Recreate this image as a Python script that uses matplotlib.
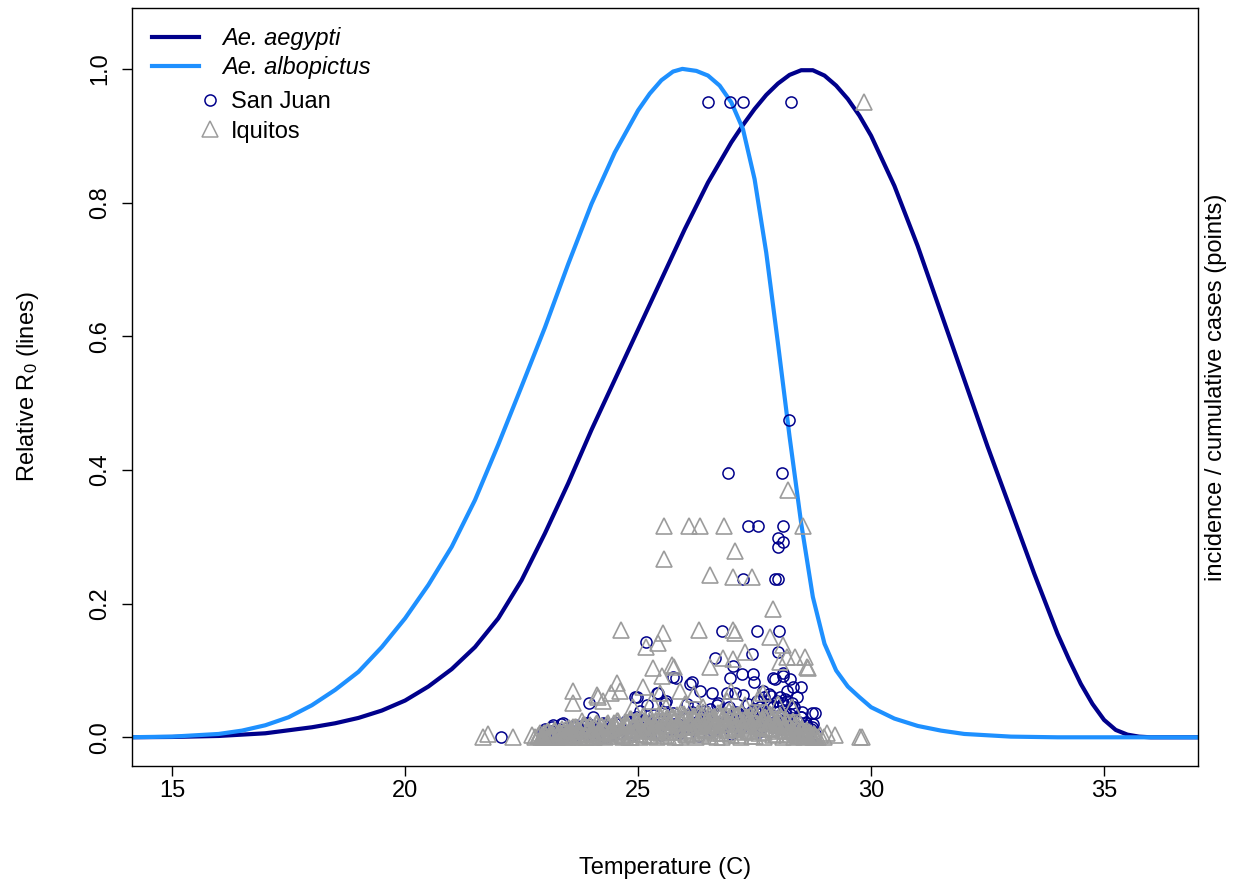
import matplotlib
matplotlib.use("Agg")
import matplotlib.pyplot as plt
from matplotlib.lines import Line2D

plt.rcParams['font.family'] = ['Liberation Sans', 'DejaVu Sans']
plt.rcParams['mathtext.fontset'] = 'custom'
plt.rcParams['mathtext.rm'] = 'Liberation Sans'
plt.rcParams['mathtext.it'] = 'Liberation Sans:italic'

# relative R0 curves
temp_aeg = [14.0, 15.0, 16.0, 17.0, 18.0, 18.5, 19.0, 19.5, 20.0, 20.5, 21.0, 21.5,
            22.0, 22.5, 23.0, 23.5, 24.0, 24.5, 25.0, 25.5, 26.0, 26.5, 27.0, 27.25,
            27.5, 27.75, 28.0, 28.25, 28.5, 28.75, 29.0, 29.25, 29.5, 29.75, 30.0, 30.5,
            31.0, 31.5, 32.0, 32.5, 33.0, 33.5, 34.0, 34.25, 34.5, 34.75, 35.0, 35.25,
            35.5, 35.75, 36.0, 37.1]
r0_aeg = [0.0, 0.0005, 0.002, 0.006, 0.015, 0.021, 0.029, 0.04, 0.055, 0.076, 0.102, 0.135,
          0.178, 0.235, 0.305, 0.38, 0.46, 0.535, 0.61, 0.685, 0.76, 0.83, 0.89, 0.916,
          0.94, 0.961, 0.978, 0.991, 0.998, 0.998, 0.99, 0.975, 0.955, 0.93, 0.9, 0.825,
          0.735, 0.635, 0.535, 0.435, 0.34, 0.245, 0.155, 0.116, 0.08, 0.05, 0.026, 0.011,
          0.004, 0.001, 0.0, 0.0]

temp_alb = [14.0, 15.0, 16.0, 16.5, 17.0, 17.5, 18.0, 18.5, 19.0, 19.5, 20.0, 20.5,
            21.0, 21.5, 22.0, 22.5, 23.0, 23.5, 24.0, 24.5, 25.0, 25.25, 25.5, 25.75,
            25.95, 26.25, 26.5, 26.75, 27.0, 27.25, 27.5, 27.75, 28.0, 28.25, 28.5, 28.75,
            29.0, 29.25, 29.5, 29.75, 30.0, 30.5, 31.0, 31.5, 32.0, 33.0, 34.0, 37.1]
r0_alb = [0.0, 0.001, 0.005, 0.01, 0.018, 0.03, 0.048, 0.071, 0.098, 0.135, 0.178, 0.228,
          0.285, 0.355, 0.438, 0.525, 0.613, 0.708, 0.798, 0.875, 0.938, 0.963, 0.983, 0.996,
          1.0, 0.997, 0.99, 0.975, 0.95, 0.91, 0.835, 0.725, 0.59, 0.45, 0.32, 0.21,
          0.14, 0.1, 0.076, 0.06, 0.045, 0.028, 0.017, 0.01, 0.005, 0.001, 0.0, 0.0]

# San Juan points (temperature, scaled incidence)
sj_temp = [26.5, 26.97, 27.25, 28.28, 28.24, 26.93, 28.09, 27.36, 27.58, 28.11,
           28.0, 28.11, 28.0, 27.25, 27.94, 28.0, 26.8, 27.55, 28.03, 25.17,
           26.65, 27.45, 28.0, 25.82, 26.16, 26.12, 26.33, 26.59, 27.04, 27.23,
           27.47, 27.49, 27.94, 28.11, 28.26, 28.5, 27.08, 27.25, 28.3, 28.52,
           28.8, 24.98, 23.95, 25.43, 25.19, 25.6, 24.03, 22.06, 26.7, 28.76,
           24.94, 25.4, 25.58, 25.75, 25.04, 26.97, 26.72, 26.44, 26.2, 26.05,
           27.9, 28.11, 28.2, 28.33, 28.4, 28.73, 28.73, 27.68, 27.8, 28.15,
           23.0, 23.18, 23.39, 23.65, 23.9, 24.25, 24.55, 26.9,
           22.95, 23.05, 23.15, 23.25, 23.35, 23.45, 23.55, 23.65, 23.75, 23.85,
           23.9, 24.05, 24.15, 24.25, 24.35, 24.45, 24.55, 24.65, 24.75, 24.85,
           24.95, 25.05, 25.15, 25.25, 25.35, 25.45, 25.55, 25.65, 25.75, 25.85,
           25.95, 26.05, 26.15, 26.25, 26.35, 26.45, 26.55, 26.65, 26.75, 26.85,
           26.95, 27.05, 27.15, 27.25, 27.35, 27.4, 27.45, 27.5, 27.55, 27.6,
           27.62, 27.65, 27.7, 27.72, 27.75, 27.8, 27.82, 27.85, 27.88, 27.9,
           27.95, 27.98, 28.0, 28.03, 28.05, 28.08, 28.1, 28.13, 28.15, 28.2,
           28.22, 28.25, 28.3, 28.35, 28.4, 28.45, 28.5, 28.55, 28.6, 28.65,
           28.7, 28.8]
sj_inc = [0.95, 0.95, 0.95, 0.95, 0.475, 0.395, 0.395, 0.316, 0.316, 0.316,
          0.298, 0.292, 0.285, 0.237, 0.237, 0.237, 0.159, 0.159, 0.159, 0.142,
          0.118, 0.124, 0.127, 0.089, 0.082, 0.079, 0.07, 0.066, 0.106, 0.094,
          0.094, 0.082, 0.087, 0.091, 0.087, 0.075, 0.066, 0.064, 0.051, 0.038,
          0.036, 0.06, 0.052, 0.067, 0.049, 0.055, 0.03, 0.0, 0.049, 0.02,
          0.06, 0.067, 0.052, 0.09, 0.04, 0.088, 0.052, 0.04, 0.045, 0.05,
          0.088, 0.096, 0.07, 0.075, 0.06, 0.036, 0.015, 0.07, 0.065, 0.058,
          0.013, 0.018, 0.022, 0.016, 0.022, 0.02, 0.021, 0.066,
          0.01, 0.005, 0.015, 0.008, 0.02, 0.01, 0.004, 0.018, 0.012, 0.006,
          0.021, 0.014, 0.007, 0.022, 0.011, 0.005, 0.02, 0.013, 0.025, 0.008,
          0.03, 0.016, 0.024, 0.01, 0.033, 0.018, 0.027, 0.012, 0.036, 0.02,
          0.03, 0.014, 0.038, 0.022, 0.03, 0.016, 0.042, 0.025, 0.033, 0.018,
          0.045, 0.027, 0.036, 0.02, 0.05, 0.03, 0.04, 0.022, 0.055, 0.035,
          0.045, 0.015, 0.06, 0.028, 0.04, 0.05, 0.018, 0.062, 0.033, 0.045,
          0.025, 0.055, 0.038, 0.012, 0.06, 0.03, 0.048, 0.02, 0.04, 0.055,
          0.028, 0.035, 0.015, 0.045, 0.025, 0.01, 0.03, 0.015, 0.022, 0.008,
          0.012, 0.005]

# San Juan weeks hidden in the low band
sj_band_temp = [23.0, 23.1, 23.2, 23.3, 23.4, 23.5, 23.6, 23.7, 23.8, 23.9,
                24.0, 24.1, 24.2, 24.3, 24.4, 24.5, 24.6, 24.7, 24.8, 24.9,
                25.0, 25.1, 25.2, 25.3, 25.4, 25.5, 25.6, 25.7, 25.8, 25.9,
                26.0, 26.1, 26.2, 26.3, 26.4, 26.5, 26.6, 26.7, 26.8, 26.9,
                27.0, 27.1, 27.2, 27.3, 27.4, 27.5, 27.6, 27.7, 27.8, 27.9,
                28.0, 28.1, 28.2, 28.3, 28.4, 28.5, 28.6, 28.7, 28.8]
sj_band_inc = [0.003, 0.009, 0.0, 0.012, 0.006, 0.015, 0.002, 0.01, 0.017, 0.005,
               0.013, 0.008, 0.019, 0.001, 0.014, 0.022, 0.007, 0.011, 0.024, 0.004,
               0.018, 0.026, 0.009, 0.015, 0.028, 0.003, 0.02, 0.031, 0.012, 0.006,
               0.027, 0.016, 0.033, 0.002, 0.023, 0.03, 0.01, 0.035, 0.018, 0.025,
               0.005, 0.038, 0.014, 0.029, 0.021, 0.042, 0.008, 0.033, 0.048, 0.015,
               0.038, 0.052, 0.024, 0.044, 0.011, 0.03, 0.018, 0.009, 0.004]

# Iquitos points (temperature, scaled incidence)
iq_temp = [29.85, 28.22, 25.56, 26.09, 26.33, 26.85, 28.54, 27.08, 25.56, 26.55,
           27.04, 27.45, 27.9, 24.64, 25.54, 26.31, 27.04, 27.08, 25.17, 25.43,
           27.83, 28.11, 27.3, 26.82, 27.04, 28.37, 28.58, 28.2, 28.65, 25.32,
           25.77, 25.52, 26.55, 23.6, 23.6, 24.55, 24.61, 24.42, 24.12, 24.25,
           25.1, 25.9, 25.47, 21.67, 21.78, 22.32, 22.79, 22.73, 23.8, 24.14,
           25.73, 27.68, 28.05, 28.63, 29.05, 29.23, 29.76, 29.8,
           25.6, 26.0, 26.4, 26.9, 27.3, 27.6, 27.0, 26.2, 25.3, 24.9, 28.0, 28.3,
           22.95, 23.05, 23.1, 23.2, 23.25, 23.3, 23.4, 23.45, 23.5, 23.55,
           23.6, 23.65, 23.7, 23.8, 23.85, 23.9, 24.0, 24.05, 24.1, 24.15,
           24.2, 24.3, 24.35, 24.4, 24.45, 24.5, 24.55, 24.6, 24.7, 24.75,
           24.8, 24.85, 24.9, 24.95, 25.0, 25.05, 25.1, 25.15, 25.2, 25.25,
           25.3, 25.35, 25.4, 25.45, 25.5, 25.55, 25.6, 25.65, 25.7, 25.75,
           25.8, 25.85, 25.9, 25.95, 26.0, 26.05, 26.1, 26.15, 26.2, 26.25,
           26.3, 26.35, 26.4, 26.45, 26.5, 26.55, 26.6, 26.65, 26.7, 26.75,
           26.8, 26.85, 26.9, 26.95, 27.0, 27.05, 27.1, 27.15, 27.2, 27.25,
           27.3, 27.35, 27.4, 27.45, 27.5, 27.55, 27.6, 27.65, 27.7, 27.75,
           27.8, 27.85, 27.9, 27.95, 28.0, 28.05, 28.1, 28.15, 28.2, 28.25,
           28.3, 28.35, 28.4, 28.45, 28.5, 28.55, 28.6, 28.7, 28.8, 28.9, 29.0]
iq_inc = [0.95, 0.37, 0.316, 0.316, 0.316, 0.316, 0.316, 0.278, 0.266, 0.243,
          0.24, 0.24, 0.192, 0.16, 0.156, 0.16, 0.16, 0.156, 0.135, 0.141,
          0.15, 0.138, 0.127, 0.118, 0.117, 0.12, 0.12, 0.12, 0.103, 0.103,
          0.105, 0.091, 0.105, 0.07, 0.051, 0.081, 0.07, 0.066, 0.063, 0.055,
          0.075, 0.07, 0.066, 0.0, 0.005, 0.0, 0.0, 0.003, 0.025, 0.06,
          0.108, 0.067, 0.112, 0.105, 0.007, 0.003, 0.0, 0.0,
          0.045, 0.05, 0.045, 0.055, 0.048, 0.06, 0.07, 0.065, 0.055, 0.045, 0.05, 0.045,
          0.002, 0.0, 0.006, 0.003, 0.0, 0.008, 0.002, 0.012, 0.0, 0.005,
          0.015, 0.002, 0.009, 0.0, 0.018, 0.006, 0.012, 0.0, 0.02, 0.004,
          0.01, 0.0, 0.022, 0.007, 0.015, 0.002, 0.025, 0.01, 0.004, 0.018,
          0.0, 0.028, 0.012, 0.005, 0.02, 0.0, 0.032, 0.009, 0.016, 0.003,
          0.025, 0.011, 0.0, 0.035, 0.006, 0.019, 0.028, 0.002, 0.013, 0.03,
          0.0, 0.022, 0.008, 0.035, 0.015, 0.003, 0.026, 0.01, 0.032, 0.0,
          0.018, 0.007, 0.038, 0.012, 0.024, 0.002, 0.03, 0.015, 0.006, 0.036,
          0.0, 0.021, 0.011, 0.04, 0.004, 0.027, 0.015, 0.033, 0.0, 0.019,
          0.008, 0.03, 0.013, 0.002, 0.036, 0.022, 0.006, 0.028, 0.0, 0.04,
          0.014, 0.031, 0.004, 0.02, 0.009, 0.034, 0.0, 0.016, 0.025, 0.005,
          0.012, 0.0, 0.02, 0.004, 0.01, 0.0, 0.006, 0.002, 0.0, 0.003, 0.0]

# Iquitos weeks making up the solid low band
iq_band_temp = [22.85, 22.9, 22.95, 23.0, 23.05, 23.1, 23.15, 23.2, 23.25, 23.3, 23.35,
                23.4, 23.45, 23.5, 23.55, 23.6, 23.65, 23.7, 23.75, 23.8, 23.85, 23.9,
                23.95, 24.0, 24.05, 24.1, 24.15, 24.2, 24.25, 24.3, 24.35, 24.4, 24.45,
                24.5, 24.55, 24.6, 24.65, 24.7, 24.75, 24.8, 24.85, 24.9, 24.95, 25.0,
                25.05, 25.1, 25.15, 25.2, 25.25, 25.3, 25.35, 25.4, 25.45, 25.5, 25.55,
                25.6, 25.65, 25.7, 25.75, 25.8, 25.85, 25.9, 25.95, 26.0, 26.05, 26.1,
                26.15, 26.2, 26.25, 26.3, 26.35, 26.4, 26.45, 26.5, 26.55, 26.6, 26.65,
                26.7, 26.75, 26.8, 26.85, 26.9, 26.95, 27.0, 27.05, 27.1, 27.15, 27.2,
                27.25, 27.3, 27.35, 27.4, 27.45, 27.5, 27.55, 27.6, 27.65, 27.7, 27.75,
                27.8, 27.85, 27.9, 27.95, 28.0, 28.05, 28.1, 28.15, 28.2, 28.25, 28.3,
                28.35, 28.4, 28.45, 28.5, 28.55, 28.6, 28.65, 28.7, 28.75, 28.8, 28.85]
iq_band_inc = [0.002, 0.006, 0.0, 0.004, 0.008, 0.001, 0.005, 0.009, 0.0, 0.007, 0.003,
               0.01, 0.002, 0.006, 0.012, 0.004, 0.015, 0.0, 0.009, 0.014, 0.003, 0.011,
               0.016, 0.006, 0.0, 0.013, 0.008, 0.017, 0.002, 0.01, 0.015, 0.005, 0.012,
               0.018, 0.007, 0.02, 0.003, 0.014, 0.022, 0.009, 0.0, 0.017, 0.024, 0.011,
               0.005, 0.019, 0.025, 0.013, 0.002, 0.021, 0.016, 0.008, 0.026, 0.012, 0.004,
               0.023, 0.029, 0.015, 0.008, 0.027, 0.019, 0.001, 0.025, 0.03, 0.011, 0.021,
               0.006, 0.028, 0.017, 0.024, 0.003, 0.031, 0.013, 0.022, 0.009, 0.027, 0.018,
               0.0, 0.03, 0.014, 0.025, 0.007, 0.029, 0.02, 0.012, 0.032, 0.004, 0.023,
               0.016, 0.028, 0.01, 0.026, 0.019, 0.002, 0.031, 0.015, 0.024, 0.008, 0.029,
               0.021, 0.013, 0.027, 0.005, 0.018, 0.022, 0.011, 0.019, 0.004, 0.016, 0.021,
               0.008, 0.014, 0.002, 0.012, 0.006, 0.009, 0.002, 0.007, 0.0, 0.004, 0.001]

iq_band2_temp = [22.875, 22.925, 22.975, 23.025, 23.075, 23.125, 23.175, 23.225, 23.275, 23.325, 23.375,
                 23.425, 23.475, 23.525, 23.575, 23.625, 23.675, 23.725, 23.775, 23.825, 23.875, 23.925,
                 23.975, 24.025, 24.075, 24.125, 24.175, 24.225, 24.275, 24.325, 24.375, 24.425, 24.475,
                 24.525, 24.575, 24.625, 24.675, 24.725, 24.775, 24.825, 24.875, 24.925, 24.975, 25.025,
                 25.075, 25.125, 25.175, 25.225, 25.275, 25.325, 25.375, 25.425, 25.475, 25.525, 25.575,
                 25.625, 25.675, 25.725, 25.775, 25.825, 25.875, 25.925, 25.975, 26.025, 26.075, 26.125,
                 26.175, 26.225, 26.275, 26.325, 26.375, 26.425, 26.475, 26.525, 26.575, 26.625, 26.675,
                 26.725, 26.775, 26.825, 26.875, 26.925, 26.975, 27.025, 27.075, 27.125, 27.175, 27.225,
                 27.275, 27.325, 27.375, 27.425, 27.475, 27.525, 27.575, 27.625, 27.675, 27.725, 27.775,
                 27.825, 27.875, 27.925, 27.975, 28.025, 28.075, 28.125, 28.175, 28.225, 28.275, 28.325,
                 28.375, 28.425, 28.475, 28.525, 28.575, 28.625, 28.675, 28.725, 28.775, 28.825]
iq_band2_inc = [0.004, 0.0, 0.007, 0.002, 0.009, 0.005, 0.0, 0.011, 0.003, 0.008, 0.012,
                0.001, 0.006, 0.014, 0.009, 0.002, 0.016, 0.011, 0.005, 0.018, 0.0, 0.013,
                0.019, 0.007, 0.015, 0.021, 0.003, 0.017, 0.01, 0.02, 0.006, 0.014, 0.022,
                0.016, 0.025, 0.01, 0.001, 0.023, 0.018, 0.027, 0.006, 0.02, 0.026, 0.014,
                0.028, 0.003, 0.022, 0.017, 0.029, 0.009, 0.024, 0.02, 0.03, 0.026, 0.033,
                0.019, 0.009, 0.031, 0.023, 0.034, 0.014, 0.028, 0.035, 0.005, 0.032, 0.024,
                0.029, 0.016, 0.036, 0.021, 0.033, 0.011, 0.027, 0.034, 0.018, 0.031, 0.025,
                0.036, 0.007, 0.03, 0.034, 0.02, 0.028, 0.035, 0.013, 0.032, 0.026, 0.037,
                0.022, 0.03, 0.009, 0.034, 0.027, 0.033, 0.017, 0.036, 0.024, 0.031, 0.012,
                0.035, 0.026, 0.032, 0.019, 0.027, 0.03, 0.015, 0.025, 0.022, 0.01, 0.024,
                0.018, 0.007, 0.02, 0.013, 0.004, 0.011, 0.008, 0.002, 0.005, 0.0]

navy = '#00008B'
light = '#1E90FF'
grey = '#9C9C9C'
fs = 17

fig = plt.figure(figsize=(12.34, 8.86), dpi=100)
ax = fig.add_axes([0.107, 0.1354, 0.864, 0.8555])

ax.plot(temp_aeg, r0_aeg, color=navy, lw=3.0, zorder=2)
ax.plot(temp_alb, r0_alb, color=light, lw=3.0, zorder=2)
ax.plot(sj_band_temp + sj_temp, sj_band_inc + sj_inc, ls='none', marker='o', ms=8,
        mfc='none', mec=navy, mew=1.1, zorder=3)
ax.plot(iq_band_temp + iq_band2_temp + iq_temp, iq_band_inc + iq_band2_inc + iq_inc,
        ls='none', marker='^', ms=11, mfc='none', mec=grey, mew=1.2, zorder=4)

ax.set_xlim(14.14, 37.02)
ax.set_ylim(-0.043, 1.091)
ax.set_xticks([15, 20, 25, 30, 35])
ax.set_yticks([0.0, 0.2, 0.4, 0.6, 0.8, 1.0])
ax.set_yticklabels(['0.0', '0.2', '0.4', '0.6', '0.8', '1.0'], rotation=90, va='center')
ax.tick_params(axis='both', direction='out', length=7, width=1, labelsize=fs)
ax.tick_params(axis='x', pad=3)
ax.tick_params(axis='y', pad=8)
for s in ax.spines.values():
    s.set_linewidth(1.0)

ax.set_xlabel('Temperature (C)', fontsize=fs)
ax.xaxis.set_label_coords(0.5, -0.1346)
ax.xaxis.label.set_va('center')
ax.set_ylabel('Relative R$_0$ (lines)', fontsize=fs)
ax.yaxis.set_label_coords(-0.098, 0.5)
ax.yaxis.label.set_va('center')
ax.text(1.017, 0.5, 'incidence / cumulative cases (points)', transform=ax.transAxes,
        rotation=90, ha='center', va='center', fontsize=fs)

line_handles = [Line2D([], [], color=navy, lw=3.0), Line2D([], [], color=light, lw=3.0)]
leg1 = ax.legend(line_handles, ['Ae. aegypti', 'Ae. albopictus'], loc='upper left',
                 bbox_to_anchor=(0.0188, 0.975), frameon=False,
                 handlelength=2.0, handletextpad=0.95, borderpad=0, borderaxespad=0,
                 labelspacing=0.25, prop={'style': 'italic', 'size': fs})
ax.add_artist(leg1)
pt_handles = [Line2D([], [], ls='none', marker='o', ms=8, mfc='none', mec=navy, mew=1.1),
              Line2D([], [], ls='none', marker='^', ms=11, mfc='none', mec=grey, mew=1.1)]
ax.legend(pt_handles, ['San Juan', 'Iquitos'], loc='upper left',
          bbox_to_anchor=(0.0638, 0.89), frameon=False, fontsize=fs,
          handlelength=0.8, handletextpad=0.5, borderpad=0, borderaxespad=0,
          labelspacing=0.3)

fig.savefig('out.png', dpi=100)
